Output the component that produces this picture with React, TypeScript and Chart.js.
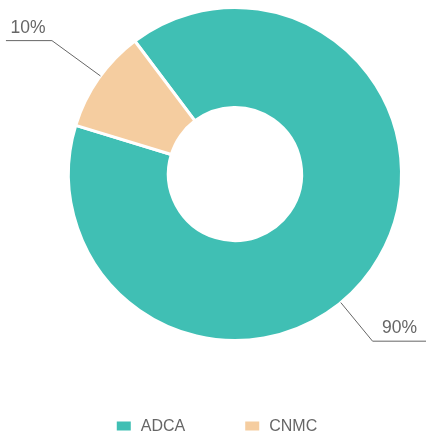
import React, { useEffect, useRef } from "react";
import { Chart, registerables } from "chart.js";

Chart.register(...registerables);

const categories = ["ADCA", "CNMC"];
const values = [90, 10];
const percentLabels = ["90%", "10%"];
const colors = ["#40bfb4", "#f5cda0"];
// label leader-line layout (fraction along slice, first segment length, second segment length)
const labelAnchorFrac = [0.548, 0.53];
const labelLine1 = [50, 60];
const labelLine2 = [56, 46];

const FONT = "'Liberation Sans', Arial, Helvetica, sans-serif";

const leaderPlugin = {
  id: "leaderLabels",
  afterDraw(chart: any) {
    const ctx = chart.ctx;
    const meta = chart.getDatasetMeta(0);
    ctx.save();
    meta.data.forEach((arc: any, i: number) => {
      const { x, y, startAngle, endAngle, outerRadius } = arc.getProps(
        ["x", "y", "startAngle", "endAngle", "outerRadius"],
        true
      );
      const a = startAngle + (endAngle - startAngle) * labelAnchorFrac[i];
      const dx = Math.cos(a);
      const dy = Math.sin(a);
      const p1x = x + outerRadius * dx;
      const p1y = y + outerRadius * dy;
      const p2x = x + (outerRadius + labelLine1[i]) * dx;
      const p2y = y + (outerRadius + labelLine1[i]) * dy;
      const dir = dx >= 0 ? 1 : -1;
      const p3x = p2x + dir * labelLine2[i];
      ctx.strokeStyle = "#666";
      ctx.lineWidth = 1;
      ctx.beginPath();
      ctx.moveTo(p1x, p1y);
      ctx.lineTo(p2x, p2y);
      ctx.lineTo(p3x, p2y);
      ctx.stroke();
      ctx.fillStyle = "#666";
      ctx.font = `17.5px ${FONT}`;
      ctx.textAlign = "center";
      ctx.textBaseline = "alphabetic";
      ctx.fillText(percentLabels[i], (p2x + p3x) / 2 - 1, p2y - 8);
    });

    // legend
    ctx.font = `16px ${FONT}`;
    const iconW = 14;
    const iconH = 9;
    const textGap = 10;
    const itemGap = 60;
    const widths = categories.map((c) => ctx.measureText(c).width);
    let total = 0;
    widths.forEach((w, i) => {
      total += iconW + textGap + w + (i < widths.length - 1 ? itemGap : 0);
    });
    let cx = chart.width / 2 + 4 - total / 2;
    const baseY = 431;
    categories.forEach((c, i) => {
      ctx.fillStyle = colors[i];
      ctx.fillRect(cx, baseY - 9.5, iconW, iconH);
      cx += iconW + textGap;
      ctx.fillStyle = "#666";
      ctx.textAlign = "left";
      ctx.fillText(c, cx, baseY);
      cx += widths[i] + itemGap;
    });
    ctx.restore();
  },
};

export default function App() {
  const ref = useRef<HTMLCanvasElement>(null);
  useEffect(() => {
    if (!ref.current) return;
    const chart = new Chart(ref.current, {
      type: "doughnut",
      data: {
        labels: categories,
        datasets: [
          {
            data: values,
            backgroundColor: colors,
            borderColor: "#ffffff",
            borderWidth: 3,
            hoverOffset: 0,
          },
        ],
      },
      options: {
        responsive: false,
        animation: false,
        events: [],
        cutout: "40%",
        rotation: -37,
        layout: { padding: { left: 67, right: 23, top: 6, bottom: 91 } },
        plugins: {
          legend: { display: false },
          tooltip: { enabled: false },
        },
      },
      plugins: [leaderPlugin],
    });
    return () => chart.destroy();
  }, []);
  return (
    <div style={{ position: "fixed", left: 0, top: 0, width: 426, height: 433, background: "#fff" }}>
      <canvas ref={ref} width={426} height={433} style={{ width: 426, height: 433, display: "block" }} />
    </div>
  );
}
